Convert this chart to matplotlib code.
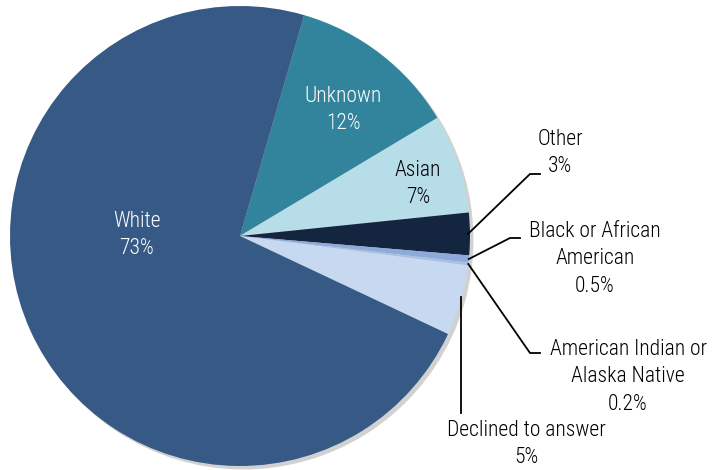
import numpy as np
import matplotlib
matplotlib.use("Agg")
from matplotlib import pyplot as plt

plt.rcParams['font.family'] = ['Roboto Condensed', 'DejaVu Sans']
plt.rcParams['font.weight'] = 300

# slices go clockwise starting from Unknown
labels = ["Unknown", "Asian", "Other", "Black or African\nAmerican", "American Indian or\nAlaska Native", "Declined to answer", "White"]
pct_text = ["12%", "7%", "3%", "0.5%", "0.2%", "5%", "73%"]
values = [12, 7, 3, 0.5, 0.2, 5, 73]
colors = ["#31849b", "#b7dde8", "#14253f", "#8eaadb", "#a9bfe3", "#c6d9f1", "#365a85"]

fig = plt.figure(figsize=(7.12, 4.70), dpi=100)
ax = fig.add_axes([0, 0, 1, 1])

cx, cy, r = 240, 234, 230
wedges, _ = ax.pie(values, colors=colors, startangle=73.8, counterclock=False,
                   center=(cx, cy), radius=r, frame=True,
                   shadow={'ox': 2.5, 'oy': -2.5, 'facecolor': '#9a9a9a', 'edgecolor': 'none', 'alpha': 0.45},
                   wedgeprops={'linewidth': 0})
ax.set_xlim(0, 712)
ax.set_ylim(0, 470)
ax.set_aspect('equal')
ax.axis('off')

def edge_point(w):
    ang = np.deg2rad((w.theta1 + w.theta2) / 2)
    return cx + r * np.cos(ang), cy + r * np.sin(ang)

fs = 15.5
ls = 1.38
# labels inside the pie
inside = {0: (343, 470 - 110), 1: (418, 470 - 184), 6: (137, 470 - 235)}
for i, (x, y) in inside.items():
    col = 'white' if i != 1 else 'black'
    ax.text(x, y, labels[i] + "\n" + pct_text[i], ha='center', va='center',
            fontsize=fs, color=col, linespacing=ls)

lw = 1.3
# Other
x0, y0 = edge_point(wedges[2])
ax.plot([x0 - 2, 530, 540], [y0, 470 - 174, 470 - 174], color='black', lw=lw)
ax.text(560, 470 - 153, labels[2] + "\n" + pct_text[2], ha='center', va='center', fontsize=fs, linespacing=ls)

# Black or African American
x0, y0 = edge_point(wedges[3])
ax.plot([x0, 510, 520], [y0, 470 - 238, 470 - 238], color='black', lw=lw)
ax.text(595, 470 - 259, labels[3] + "\n" + pct_text[3], ha='center', va='center', fontsize=fs, linespacing=ls)

# American Indian or Alaska Native
x0, y0 = edge_point(wedges[4])
ax.plot([x0, 530, 540], [y0, 470 - 353, 470 - 353], color='black', lw=lw)
ax.text(628, 470 - 377, labels[4] + "\n" + pct_text[4], ha='center', va='center', fontsize=fs, linespacing=ls)

# Declined to answer
ax.plot([461, 461], [470 - 297, 470 - 413], color='black', lw=lw)
ax.text(526, 470 - 444, labels[5] + "\n" + pct_text[5], ha='center', va='center', fontsize=fs, linespacing=ls)

fig.savefig("out.png", dpi=100)
